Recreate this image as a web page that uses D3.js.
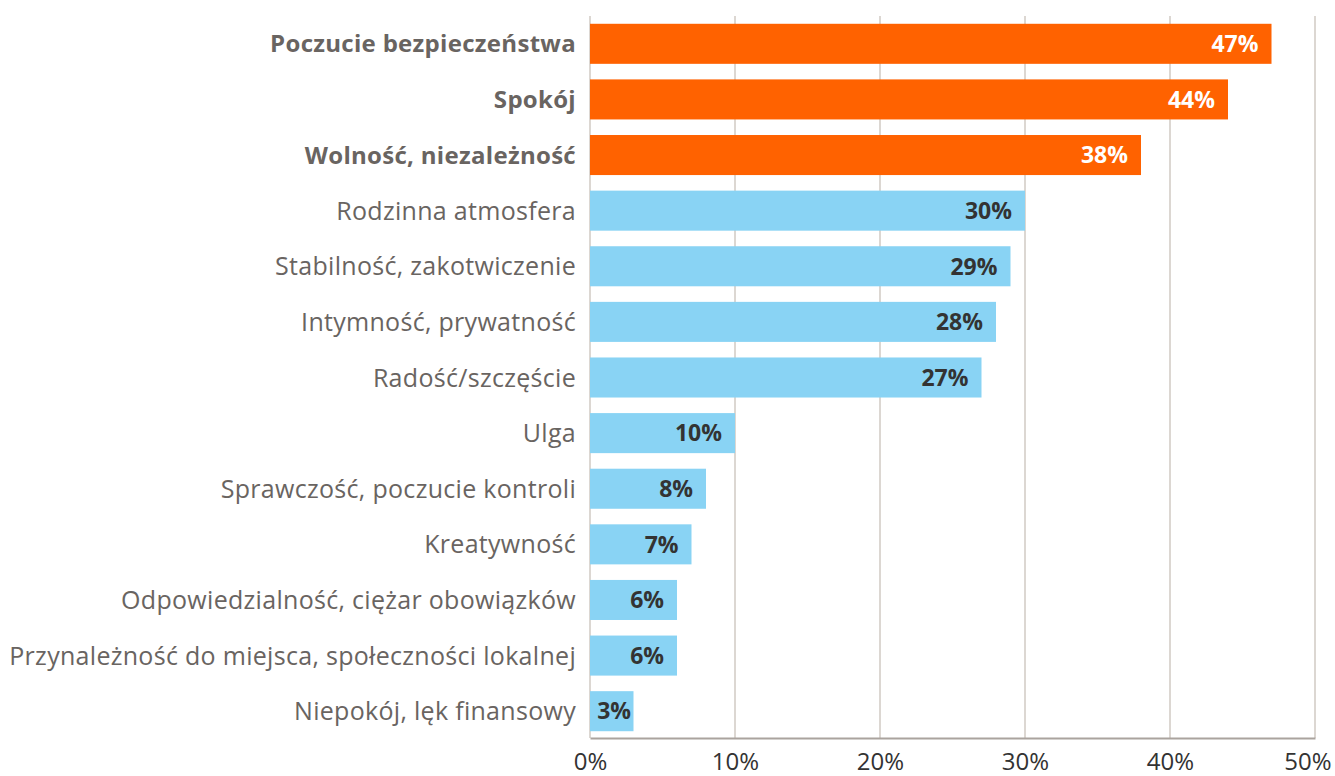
<!DOCTYPE html>
<html>
<head>
<meta charset="utf-8">
<script src="https://cdn.jsdelivr.net/npm/d3@7"></script>
<style>
  body { margin: 0; background: #fff; }
  svg text { font-family: "Open Sans", Lato, sans-serif; }
</style>
</head>
<body>
<svg id="chart" width="1335" height="776"></svg>
<script>
var categories = ['Poczucie bezpieczeństwa', 'Spokój', 'Wolność, niezależność', 'Rodzinna atmosfera',
    'Stabilność, zakotwiczenie', 'Intymność, prywatność', 'Radość/szczęście', 'Ulga',
    'Sprawczość, poczucie kontroli', 'Kreatywność', 'Odpowiedzialność, ciężar obowiązków',
    'Przynależność do miejsca, społeczności lokalnej', 'Niepokój, lęk finansowy'];
var values = [47, 44, 38, 30, 29, 28, 27, 10, 8, 7, 6, 6, 3];
var highlighted = [true, true, true, false, false, false, false, false, false, false, false, false, false];
var tickValues = [0, 10, 20, 30, 40, 50];

var svg = d3.select('#chart');
var xScale = d3.scaleLinear().domain([0, 50]).range([590, 1315]);
var yScale = d3.scaleBand().domain(categories).range([16, 739])
    .paddingInner(0.28).paddingOuter(0.14);

// gridlines
svg.append('g').selectAll('line')
    .data(tickValues)
    .enter()
    .append('line')
    .attr('x1', function(d) { return xScale(d); })
    .attr('x2', function(d) { return xScale(d); })
    .attr('y1', 16)
    .attr('y2', 738)
    .attr('stroke', '#dcd7d2')
    .attr('stroke-width', 2);

// bars
var rows = svg.append('g').selectAll('g')
    .data(categories)
    .enter()
    .append('g');

rows.append('rect')
    .attr('x', xScale(0))
    .attr('y', function(d) { return yScale(d); })
    .attr('width', function(d, i) { return xScale(values[i]) - xScale(0); })
    .attr('height', yScale.bandwidth())
    .attr('fill', function(d, i) { return highlighted[i] ? '#ff6200' : '#89d3f4'; });

// category labels
rows.append('text')
    .attr('x', xScale(0) - 14)
    .attr('y', function(d) { return yScale(d) + yScale.bandwidth() / 2; })
    .attr('dy', '0.36em')
    .attr('text-anchor', 'end')
    .style('font-size', function(d, i) { return highlighted[i] ? '24px' : '25px'; })
    .style('letter-spacing', '0.3px')
    .style('font-weight', function(d, i) { return highlighted[i] ? 'bold' : 'normal'; })
    .style('fill', '#696461')
    .text(function(d) { return d; });

// value labels
rows.append('text')
    .attr('x', function(d, i) {
        var end = xScale(values[i]) - 13;
        return Math.max(end, xScale(0) + 41);
    })
    .attr('y', function(d) { return yScale(d) + yScale.bandwidth() / 2; })
    .attr('dy', '0.36em')
    .attr('text-anchor', 'end')
    .style('font-size', '23px')
    .style('font-weight', 'bold')
    .style('fill', function(d, i) { return highlighted[i] ? '#ffffff' : '#333333'; })
    .text(function(d, i) { return values[i] + '%'; });

// x axis
var xAxis = svg.append('g')
    .attr('transform', 'translate(0,738)')
    .call(d3.axisBottom(xScale).tickValues(tickValues).tickSize(0).tickPadding(15)
        .tickFormat(function(d) { return d + '%'; }));
xAxis.select('.domain').attr('stroke', '#aaa39e').attr('stroke-width', 2);
xAxis.selectAll('text')
    .style('font-size', '24px')
    .style('font-family', '"Open Sans", sans-serif')
    .style('fill', '#333333')
    .attr('text-anchor', function(d) { return d === 50 ? 'end' : 'middle'; })
    .attr('dx', function(d) { return d === 50 ? '16px' : 0; });
</script>
</body>
</html>
